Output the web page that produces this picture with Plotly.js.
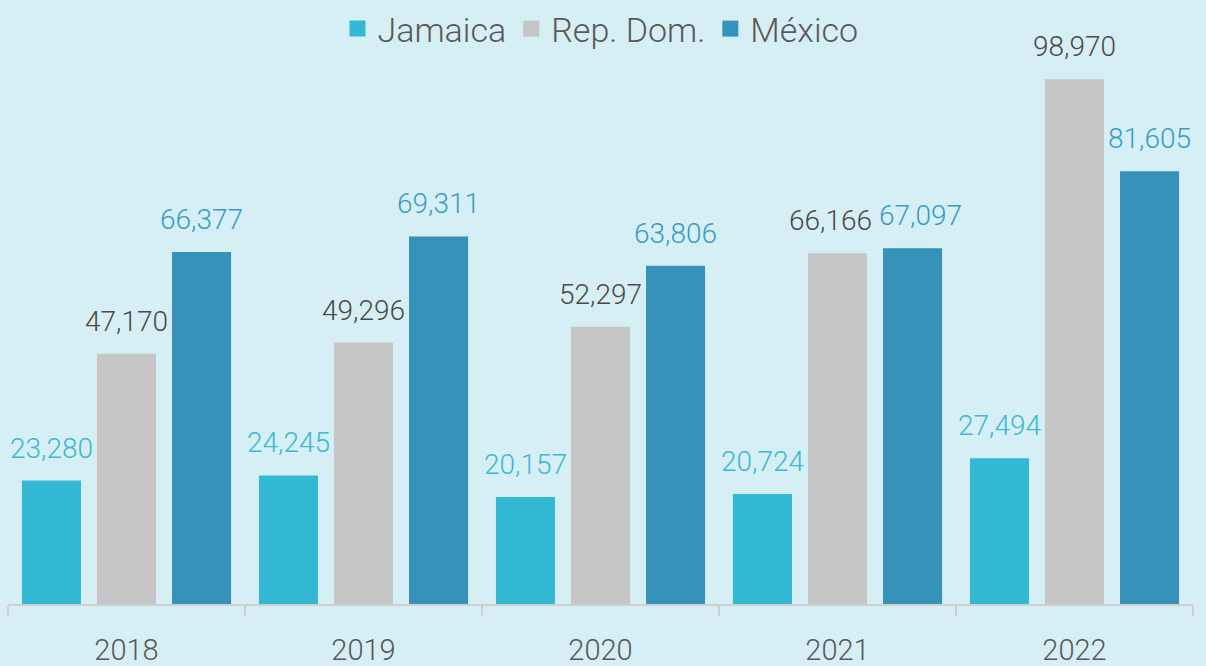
<!DOCTYPE html>
<html>
<head>
<meta charset="utf-8">
<script src="https://cdn.plot.ly/plotly-3.0.1.min.js"></script>
<style>html,body{margin:0;padding:0;background:#D6EFF4;}#chart{width:1206px;height:666px;}</style>
</head>
<body>
<div id="chart"></div>
<script>
const years = ['2018', '2019', '2020', '2021', '2022'];
const seriesNames = ['Jamaica', 'Rep. Dom.', 'México'];
const jamaica = [23280, 24245, 20157, 20724, 27494];
const repDom = [47170, 49296, 52297, 66166, 98970];
const mexico = [66377, 69311, 63806, 67097, 81605];

const barColors = ['#33B9D3', '#C6C6C6', '#3792B9'];
const labelColors = ['#3DB8D6', '#4A4A4A', '#3A9BC8'];
const FONT = 'Roboto, "Liberation Sans", sans-serif';

const W = 1206, H = 666;
const margin = {l: 8, r: 13, t: 0, b: 62};
const plotW = W - margin.l - margin.r;
const plotH = H - margin.t - margin.b;
const yMax = 113900;
const pxPerUnit = plotH / yMax;
const bargap = 0.05;
const catW = plotW / years.length;
const slot = catW * (1 - bargap) / 3;
const labelSize = 28;

const values = [jamaica, repDom, mexico];
const traces = values.map((v, i) => ({
  type: 'bar', x: years, y: v, name: seriesNames[i],
  marker: {color: barColors[i], line: {width: 0}},
  showlegend: false, hoverinfo: 'x+y+name'
}));
// legend entries (no visible points)
seriesNames.forEach((n, i) => traces.push({
  type: 'scatter', mode: 'markers', x: [years[0]], y: [null], name: n,
  marker: {symbol: 'square', size: 16, color: barColors[i]}, hoverinfo: 'skip'
}));

const fmt = n => n.toLocaleString('en-US');
// simple label collision avoidance between neighbouring bars
const approxW = s => s.length * labelSize * 0.5;
const annotations = [];
years.forEach((yr, j) => {
  const shifts = values.map((v, i) => (i - 1) * slot);
  for (let i = 0; i < values.length - 1; i++) {
    const a = fmt(values[i][j]), b = fmt(values[i + 1][j]);
    const dy = Math.abs(values[i][j] - values[i + 1][j]) * pxPerUnit;
    const need = (approxW(a) + approxW(b)) / 2 + 6;
    const have = shifts[i + 1] - shifts[i];
    if (dy < labelSize && have < need) {
      const push = (need - have) / 2;
      shifts[i] -= push; shifts[i + 1] += push;
    }
  }
  values.forEach((v, i) => {
    annotations.push({
      x: j, y: v[j], xref: 'x', yref: 'y', text: fmt(v[j]),
      showarrow: false, yanchor: 'bottom', xanchor: 'center',
      xshift: shifts[i], yshift: 14,
      font: {family: FONT, size: labelSize, weight: 300, color: labelColors[i]}
    });
  });
});

const layout = {
  width: W, height: H, margin: margin,
  paper_bgcolor: '#D6EFF4', plot_bgcolor: '#D6EFF4',
  barmode: 'group', bargap: bargap, bargroupgap: 0.213,
  font: {family: FONT, color: '#595959'},
  xaxis: {
    type: 'category', categoryorder: 'array', categoryarray: years,
    range: [-0.5, years.length - 0.5],
    showgrid: false, zeroline: false,
    showline: true, linecolor: '#CFCFCF', linewidth: 2,
    ticks: 'outside', tickson: 'boundaries', ticklen: 10, tickcolor: '#CFCFCF', tickwidth: 2,
    tickfont: {family: FONT, size: 29, weight: 300, color: '#595959'},
    ticklabelstandoff: 19
  },
  yaxis: {
    range: [0, yMax], visible: false, showgrid: false, zeroline: false, fixedrange: true
  },
  legend: {
    orientation: 'h', x: 0.5, xanchor: 'center',
    y: 1, yanchor: 'top',
    font: {family: FONT, size: 34, weight: 300, color: '#595959'},
    itemsizing: 'trace', bgcolor: 'rgba(0,0,0,0)', itemwidth: 30, traceorder: 'normal'
  },
  annotations: annotations,
  showlegend: true
};

Plotly.newPlot('chart', traces, layout, {displayModeBar: false, staticPlot: true});
</script>
</body>
</html>
